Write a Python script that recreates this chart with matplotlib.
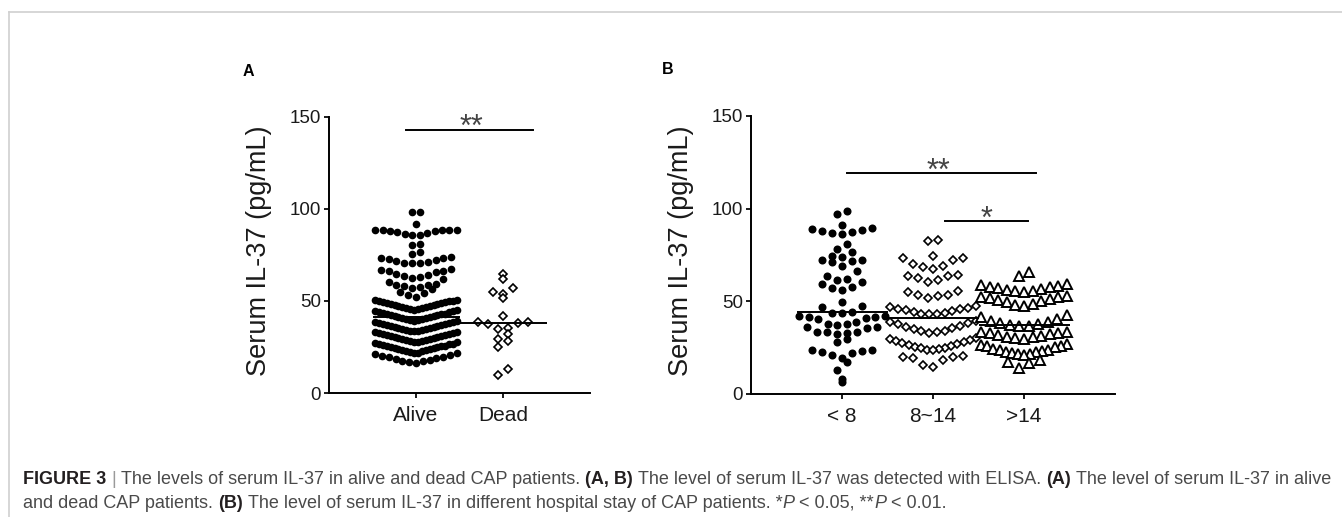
import numpy as np
import matplotlib
matplotlib.use('Agg')
import matplotlib.pyplot as plt
from matplotlib.lines import Line2D
from matplotlib.font_manager import FontProperties

plt.rcParams['font.family'] = ['Liberation Sans', 'DejaVu Sans']

# ---- data (pg/mL) ----
groups_a = ['Alive', 'Dead']
alive = [98.5, 98.4, 91.6,
         88.8, 88.7, 88.6, 88.6, 88.4, 88.2, 87.9, 87.5, 87.0, 86.5, 86.1, 85.9,
         80.8, 80.7, 76.7, 75.8,
         73.9, 73.6, 73.2, 72.6, 72.2, 71.5, 71.0, 70.7, 70.5, 70.4,
         67.3, 66.9, 66.5, 66.2, 65.6, 64.9, 64.1, 63.6, 63.1, 62.7,
         62.2, 60.1, 59.4, 58.9, 58.5, 57.9, 57.4, 57.0,
         56.4, 55.1, 54.2, 53.3, 52.1,
         50.7, 50.6, 50.2, 50.0, 49.8, 49.5, 49.3, 49.0, 48.8, 48.5, 48.2,
         48.0, 47.7, 47.4, 47.2, 46.9, 46.6, 46.4, 46.1, 45.8, 45.5, 45.2,
         44.9, 44.6, 44.4, 44.1, 43.8, 43.6, 43.2, 43.0, 42.7, 42.4, 42.2,
         41.9, 41.6, 41.4, 41.1, 40.8, 40.6, 40.3, 40.0, 39.8, 39.5, 39.3,
         39.1, 38.8, 38.5, 38.3, 38.0, 37.7, 37.4, 37.2, 36.9, 36.6, 36.4,
         36.1, 35.8, 35.5, 35.3, 35.0, 34.7, 34.5, 34.2, 33.9, 33.7, 33.5,
         33.3, 33.0, 32.7, 32.5, 32.2, 31.9, 31.6, 31.4, 31.1, 30.8, 30.6,
         30.3, 30.0, 29.7, 29.5, 29.2, 28.9, 28.7, 28.4, 28.1, 27.9, 27.7,
         27.5, 27.2, 26.9, 26.7, 26.4, 26.1, 25.8, 25.6, 25.3, 25.0, 24.8,
         24.5, 24.2, 23.9, 23.7, 23.4, 23.1, 22.8, 22.6, 22.3, 22.0, 21.9,
         21.6, 21.2, 20.7, 20.3, 19.8, 19.4, 18.9, 18.5, 18.0, 17.6, 17.2, 16.8, 16.3]
dead = [64.8, 62.0, 57.0, 54.9, 54.0, 51.5, 41.9, 38.8, 38.8, 38.2,
        37.4, 35.1, 34.7, 32.0, 29.2, 28.3, 25.0, 13.0, 10.0]

groups_b = ['< 8', '8~14', '>14']
stay_lt8 = [98.7, 96.9,
            91.4, 89.3, 89.1, 88.4, 87.8, 87.3, 87.0, 86.6,
            81.0, 78.5, 76.5,
            74.3, 74.0, 72.2, 72.2, 71.6, 71.1, 69.3,
            66.2, 63.5, 62.2, 61.7, 60.3, 59.1, 57.7, 57.3, 55.9,
            49.7, 47.7, 47.0,
            44.5, 43.6, 43.6, 42.3, 41.9, 41.5, 41.5, 41.0, 40.5, 39.0,
            37.8, 37.7, 37.3, 36.4, 36.4, 35.5,
            33.7, 33.7, 33.7, 32.8, 32.4, 29.6, 28.3,
            23.8, 23.8, 23.1, 22.4, 22.0, 21.1, 19.3, 17.5,
            12.9, 8.2, 6.4]
stay_8_14 = [83.3, 82.8,
             74.3, 73.4, 73.4, 72.5, 70.2, 69.3, 68.6, 67.5,
             64.4, 63.5, 63.5, 62.6, 61.7, 60.3,
             55.4, 54.9, 53.6, 53.6, 52.7, 51.8,
             47.3, 47.0, 46.6, 46.1, 45.6, 45.1, 44.6, 44.2, 43.8, 43.4, 43.1, 42.9,
             39.3, 38.8, 38.2, 37.6, 36.9, 36.2, 35.5, 34.9, 34.2, 33.8, 33.5, 32.9,
             30.1, 29.6, 29.1, 28.6, 28.1, 27.6, 27.1, 26.6, 26.1, 25.5, 25.0,
             24.6, 24.2, 23.9, 23.6,
             20.6, 20.1, 19.8, 19.3, 18.4, 15.5, 14.3]
stay_gt14 = [65.7, 63.5,
             59.4, 58.9, 58.3, 57.9, 57.5, 57.1, 56.6, 56.2, 55.8, 55.4, 54.9,
             52.9, 52.6, 52.2, 51.7, 51.2, 50.6, 50.0, 49.4, 48.8, 48.1, 47.3,
             42.7, 41.4, 40.2, 39.6, 39.0, 38.4, 37.9, 37.4, 36.9, 36.8,
             33.7, 33.3, 33.0, 32.9, 32.4, 31.9, 31.4, 31.0, 30.8, 30.2, 29.6,
             27.0, 26.5, 26.0, 25.8, 25.1, 24.4, 24.0, 23.8, 23.2, 22.8, 22.4,
             22.0, 21.8, 21.4, 20.9,
             18.4, 17.5, 16.5, 13.9]

# significance brackets: (x0, x1, y, text x, text y, label)
sig_a = [(0.89, 2.34, 143, 1.64, 149, '**')]
sig_b = [(1.06, 3.13, 119.4, 2.06, 125, '**'),
         (2.13, 3.04, 93.2, 2.59, 99, '*')]

yticks = [0, 50, 100, 150]
ylabel = 'Serum IL-37 (pg/mL)'

W, H = 1342, 517
fig = plt.figure(figsize=(W / 100, H / 100), dpi=100)


def swarm(vals, pos, start, width, step, span=0.94):
    # Prism-like column scatter: values binned in rows, spread centre-out
    vals = np.asarray(vals, float)
    xs = np.full(len(vals), float(pos))
    rows = np.floor((vals - start) / width)
    for r in np.unique(rows):
        idx = np.where(rows == r)[0]
        idx = idx[np.argsort(vals[idx], kind='stable')]
        n = len(idx)
        if n < 2:
            continue
        s = min(step, span / (n - 1))
        for k, i in enumerate(idx):
            if n % 2:
                m = ((k + 1) // 2) * (-1 if k % 2 else 1)
            else:
                m = (k // 2 + 0.5) * (-1 if k % 2 == 0 else 1)
            xs[i] = pos + m * s
    return xs


axA = fig.add_axes([329 / W, 1 - 393 / H, (590 - 329) / W, (393 - 117) / H])
axB = fig.add_axes([751 / W, 1 - 394 / H, (1115 - 751) / W, (394 - 116) / H])

# panel A
x = swarm(alive, 1, 16, 5.8, 0.09)
axA.plot(x, alive, 'o', ms=5.5, color='black', mew=0, clip_on=False, zorder=3)
x = swarm(dead, 2, 9, 5, 0.115)
axA.plot(x, dead, 'D', ms=3.7, mfc='white', mec='black', mew=1.2, clip_on=False, zorder=3)
for pos, vals in zip([1, 2], [alive, dead]):
    axA.hlines(np.median(vals), pos - 0.5, pos + 0.5, color='black', lw=1.4, zorder=4)

# panel B
x = swarm(stay_lt8, 1, 0.5, 6, 0.11)
axB.plot(x, stay_lt8, 'o', ms=5.8, color='black', mew=0, clip_on=False, zorder=3)
x = swarm(stay_8_14, 2, 14, 8.5, 0.11)
axB.plot(x, stay_8_14, 'D', ms=3.7, mfc='white', mec='black', mew=1.2, clip_on=False, zorder=3)
x = swarm(stay_gt14, 3, 2, 8.5, 0.12)
axB.plot(x, stay_gt14, '^', ms=7.4, mfc='white', mec='black', mew=1.4, clip_on=False, zorder=3)
for pos, vals in zip([1, 2, 3], [stay_lt8, stay_8_14, stay_gt14]):
    axB.hlines(np.median(vals), pos - 0.5, pos + 0.5, color='black', lw=1.4, zorder=4)

for ax, labels, sigs, lx in [(axA, groups_a, sig_a, -0.218), (axB, groups_b, sig_b, -0.157)]:
    for side in ['top', 'right']:
        ax.spines[side].set_visible(False)
    for side in ['left', 'bottom']:
        ax.spines[side].set_linewidth(1.4)
    ax.set_xlim(0, len(labels) + 1)
    ax.set_ylim(0, 150)
    ax.set_yticks(yticks)
    ax.set_xticks(range(1, len(labels) + 1))
    ax.set_xticklabels(labels)
    ax.tick_params(direction='out', length=3.6, width=1.4, colors='#1a1a1a')
    ax.tick_params(axis='y', labelsize=13.5, pad=2)
    ax.tick_params(axis='x', labelsize=15, pad=6)
    ax.set_ylabel(ylabel, fontsize=19.5, color='#1a1a1a')
    ax.yaxis.set_label_coords(lx, 0.514)
    for x0, x1, y, tx, ty, lab in sigs:
        ax.plot([x0, x1], [y, y], color='black', lw=1.4, clip_on=False)
        ax.annotate(lab, xy=(tx, ty), xytext=(0, -12.6), textcoords='offset points',
                    ha='center', va='baseline', fontsize=22, color='#444444',
                    annotation_clip=False)

fig.text(248 / W, 1 - 76.2 / H, 'A', fontsize=11.5, fontweight='bold', ha='center', va='baseline')
fig.text(668 / W, 1 - 74.2 / H, 'B', fontsize=11.5, fontweight='bold', ha='center', va='baseline')

# frame lines
fig.add_artist(Line2D([9 / W, 1], [1 - 12 / H, 1 - 12 / H], transform=fig.transFigure,
                      color='#d0d0d0', lw=1.2))
fig.add_artist(Line2D([9 / W, 9 / W], [1 - 12 / H, 0], transform=fig.transFigure,
                      color='#d0d0d0', lw=1.2))

# caption
dark, body, bar = '#231f20', '#4a4a4a', '#9a9a9a'
line1 = [('FIGURE 3', 'bold', 'normal', dark, 0),
         ('|', 'normal', 'normal', bar, 1),
         ('The levels of serum IL-37 in alive and dead CAP patients.', 'normal', 'normal', body, 1),
         ('(A, B)', 'bold', 'normal', dark, 1),
         ('The level of serum IL-37 was detected with ELISA.', 'normal', 'normal', body, 1),
         ('(A)', 'bold', 'normal', dark, 1),
         ('The level of serum IL-37 in alive', 'normal', 'normal', body, 1)]
line2 = [('and dead CAP patients.', 'normal', 'normal', body, 0),
         ('(B)', 'bold', 'normal', dark, 1),
         ('The level of serum IL-37 in different hospital stay of CAP patients. *', 'normal', 'normal', body, 1),
         ('P', 'normal', 'italic', body, 0),
         ('< 0.05, **', 'normal', 'normal', body, 1),
         ('P', 'normal', 'italic', body, 0),
         ('< 0.01.', 'normal', 'normal', body, 1)]

renderer = fig.canvas.get_renderer()


def space_w(size):
    fp = FontProperties(family='Liberation Sans', size=size)
    w1 = renderer.get_text_width_height_descent('a a', fp, ismath=False)[0]
    w0 = renderer.get_text_width_height_descent('aa', fp, ismath=False)[0]
    return w1 - w0


def put_line(pieces, x0, y, size):
    x = x0
    texts = []
    sw = space_w(size)
    for s, weight, style, color, gap in pieces:
        x += gap * sw
        t = fig.text(x / W, 1 - y / H, s, fontsize=size, fontweight=weight,
                     fontstyle=style, color=color, ha='left', va='baseline',
                     family='Liberation Sans')
        texts.append(t)
        x = t.get_window_extent(renderer).x1
    return x, texts


size = 10.8
end, tmp = put_line(line1, 23, 483.5, size)
for t in tmp:
    t.remove()
size = size * (1333 - 23) / (end - 23)
put_line(line1, 23, 483.5, size)
put_line(line2, 23, 507.5, size)

fig.savefig('out.png', dpi=100)
